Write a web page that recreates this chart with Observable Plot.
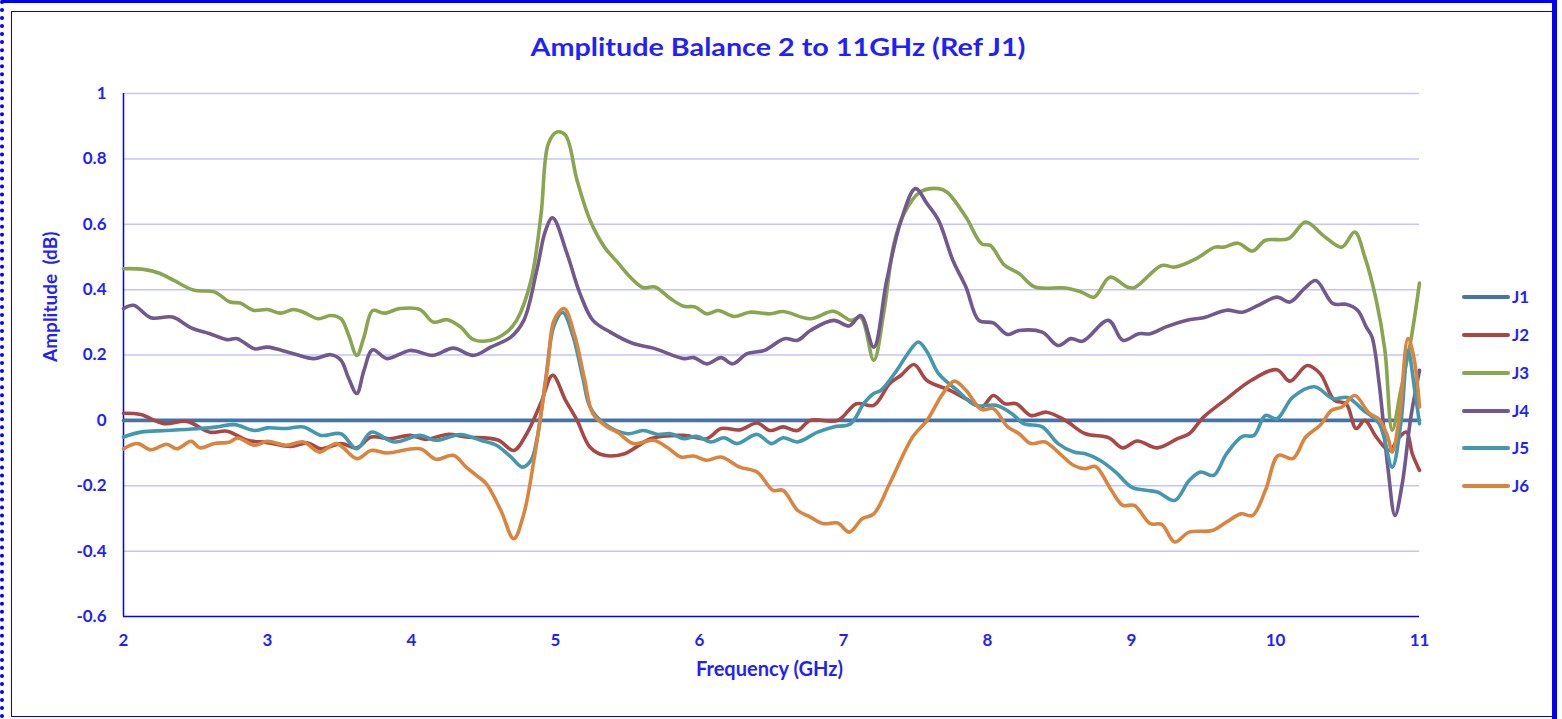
<!DOCTYPE html>
<html>
<head>
<meta charset="utf-8">
<script src="https://cdn.jsdelivr.net/npm/d3@7"></script>
<script src="https://cdn.jsdelivr.net/npm/@observablehq/plot@0.6"></script>
<style>
  html, body { margin: 0; padding: 0; background: #fff; }
  body { width: 1562px; height: 719px; position: relative; overflow: hidden; font-family: "Lato", "Open Sans", "DejaVu Sans", sans-serif; }
  #chart { position: absolute; left: 0; top: 0; }
  .txt { position: absolute; color: #1f1fff; font-weight: bold; white-space: nowrap; }
  #title { left: 0; width: 1562px; top: 31px; text-align: center; font-size: 25px; transform: translateX(-3px) scaleX(1.15); transform-origin: 781px 50%; }
  .leg { position: absolute; left: 1462px; width: 48px; height: 4px; border-radius: 2px; }
  .legtxt { position: absolute; left: 1512px; font-size: 17px; color: #1f1fff; font-weight: bold; }
  #outer { position: absolute; left: 0; top: 0; width: 1557px; height: 719px; border-top: 3px solid #0000ff; border-left: 4px dotted #0000ff; border-right: 5px solid #0000ff; box-sizing: border-box; }
  #inner { position: absolute; left: 11px; top: 11px; width: 1541px; height: 706px; border: 1.5px solid #0000ff; border-right: none; box-sizing: border-box; }
</style>
</head>
<body>
<div id="outer"></div>
<div id="inner"></div>
<div id="chart"></div>
<div id="title" class="txt">Amplitude Balance 2 to 11GHz (Ref J1)</div>
<div id="legend"></div>
<script>
// ---- data (frequency GHz, amplitude dB) ----
const xTicks = [2, 3, 4, 5, 6, 7, 8, 9, 10, 11];
const yTicks = [-0.6, -0.4, -0.2, 0, 0.2, 0.4, 0.6, 0.8, 1];
const seriesNames = ["J1", "J2", "J3", "J4", "J5", "J6"];
const seriesColors = ["#4572a7", "#aa4643", "#89a54e", "#71588f", "#4198af", "#db843d"];

const j1 = [[2.0, 0], [11.0, 0]];

const j2 = [[2.00,0.022],[2.12,0.018],[2.28,-0.010],[2.44,-0.003],[2.60,-0.036],[2.72,-0.033],[2.86,-0.061],[3.00,-0.068],[3.16,-0.080],[3.28,-0.069],[3.37,-0.087],[3.51,-0.071],[3.62,-0.084],[3.72,-0.051],[3.85,-0.056],[3.99,-0.046],[4.10,-0.058],[4.25,-0.043],[4.38,-0.051],[4.60,-0.060],[4.71,-0.092],[4.80,-0.041],[4.90,0.055],[4.98,0.138],[5.07,0.061],[5.15,0.0],[5.24,-0.082],[5.34,-0.107],[5.48,-0.102],[5.56,-0.082],[5.66,-0.056],[5.89,-0.046],[6.05,-0.056],[6.15,-0.025],[6.28,-0.029],[6.40,-0.008],[6.49,-0.031],[6.58,-0.020],[6.68,-0.031],[6.77,0.0],[6.96,0.0],[7.09,0.051],[7.21,0.046],[7.32,0.112],[7.40,0.138],[7.49,0.171],[7.58,0.122],[7.74,0.092],[7.85,0.066],[7.96,0.041],[8.04,0.076],[8.12,0.051],[8.20,0.051],[8.30,0.015],[8.41,0.025],[8.54,0.0],[8.68,-0.041],[8.84,-0.053],[8.94,-0.084],[9.04,-0.063],[9.18,-0.084],[9.32,-0.056],[9.40,-0.041],[9.50,0.010],[9.66,0.066],[9.83,0.122],[10.01,0.155],[10.10,0.120],[10.22,0.168],[10.31,0.143],[10.41,0.061],[10.49,0.051],[10.56,-0.025],[10.62,0.0],[10.70,-0.051],[10.79,-0.092],[10.86,-0.051],[10.91,-0.036],[10.95,-0.102],[11.00,-0.153]];

const j3 = [[2.00,0.464],[2.14,0.462],[2.25,0.450],[2.35,0.428],[2.49,0.398],[2.63,0.393],[2.74,0.362],[2.81,0.359],[2.90,0.337],[3.00,0.339],[3.09,0.328],[3.18,0.339],[3.25,0.331],[3.35,0.311],[3.44,0.321],[3.51,0.311],[3.56,0.265],[3.62,0.199],[3.67,0.255],[3.73,0.336],[3.81,0.328],[3.92,0.342],[4.06,0.339],[4.15,0.301],[4.25,0.308],[4.34,0.286],[4.43,0.247],[4.55,0.245],[4.66,0.270],[4.73,0.306],[4.83,0.428],[4.90,0.632],[4.95,0.846],[5.01,0.882],[5.07,0.872],[5.15,0.734],[5.24,0.612],[5.34,0.530],[5.43,0.484],[5.52,0.438],[5.61,0.406],[5.69,0.408],[5.80,0.372],[5.89,0.349],[5.97,0.347],[6.05,0.326],[6.13,0.336],[6.24,0.318],[6.35,0.331],[6.49,0.326],[6.58,0.333],[6.77,0.311],[6.93,0.334],[7.05,0.306],[7.12,0.315],[7.21,0.184],[7.28,0.330],[7.35,0.540],[7.42,0.632],[7.53,0.698],[7.66,0.709],[7.72,0.698],[7.85,0.622],[7.96,0.540],[8.02,0.535],[8.12,0.474],[8.22,0.449],[8.33,0.408],[8.54,0.405],[8.65,0.393],[8.74,0.377],[8.85,0.438],[8.97,0.408],[9.02,0.406],[9.21,0.474],[9.30,0.469],[9.45,0.495],[9.58,0.530],[9.64,0.530],[9.74,0.542],[9.84,0.518],[9.93,0.551],[10.09,0.556],[10.21,0.607],[10.33,0.566],[10.46,0.530],[10.55,0.576],[10.62,0.500],[10.70,0.367],[10.76,0.214],[10.81,-0.030],[10.87,0.092],[10.94,0.245],[11.00,0.420]];

const j4 = [[2.00,0.342],[2.07,0.352],[2.19,0.314],[2.34,0.316],[2.47,0.283],[2.60,0.265],[2.72,0.247],[2.79,0.250],[2.91,0.219],[3.00,0.224],[3.18,0.204],[3.32,0.189],[3.44,0.201],[3.51,0.184],[3.56,0.133],[3.62,0.082],[3.67,0.153],[3.73,0.216],[3.83,0.189],[3.99,0.214],[4.15,0.199],[4.29,0.221],[4.43,0.199],[4.55,0.224],[4.69,0.255],[4.78,0.306],[4.87,0.459],[4.93,0.580],[4.98,0.620],[5.08,0.510],[5.17,0.388],[5.26,0.306],[5.38,0.270],[5.54,0.235],[5.68,0.221],[5.89,0.189],[5.96,0.192],[6.05,0.173],[6.15,0.192],[6.23,0.173],[6.33,0.204],[6.45,0.214],[6.59,0.250],[6.68,0.245],[6.77,0.275],[6.93,0.306],[7.04,0.289],[7.12,0.321],[7.21,0.224],[7.30,0.428],[7.40,0.612],[7.50,0.709],[7.58,0.663],[7.66,0.612],[7.76,0.489],[7.85,0.408],[7.94,0.306],[8.04,0.298],[8.14,0.263],[8.22,0.275],[8.38,0.270],[8.49,0.229],[8.58,0.250],[8.66,0.242],[8.84,0.306],[8.94,0.245],[9.05,0.265],[9.13,0.265],[9.24,0.286],[9.40,0.308],[9.50,0.314],[9.66,0.337],[9.77,0.331],[9.88,0.352],[10.01,0.377],[10.10,0.362],[10.20,0.403],[10.28,0.428],[10.40,0.357],[10.49,0.355],[10.57,0.337],[10.63,0.286],[10.67,0.255],[10.72,0.112],[10.78,-0.143],[10.83,-0.291],[10.88,-0.194],[10.94,0.010],[11.00,0.153]];

const j5 = [[2.00,-0.051],[2.12,-0.036],[2.30,-0.031],[2.53,-0.025],[2.65,-0.020],[2.77,-0.013],[2.91,-0.031],[3.00,-0.023],[3.13,-0.025],[3.25,-0.020],[3.37,-0.046],[3.51,-0.041],[3.62,-0.087],[3.72,-0.036],[3.88,-0.066],[4.06,-0.046],[4.17,-0.061],[4.34,-0.043],[4.48,-0.061],[4.59,-0.076],[4.69,-0.112],[4.77,-0.143],[4.83,-0.122],[4.87,-0.060],[4.93,0.120],[4.99,0.290],[5.05,0.330],[5.12,0.260],[5.19,0.130],[5.24,0.041],[5.34,-0.010],[5.50,-0.041],[5.61,-0.031],[5.71,-0.043],[5.80,-0.041],[5.89,-0.056],[5.98,-0.049],[6.08,-0.066],[6.17,-0.053],[6.26,-0.071],[6.40,-0.043],[6.50,-0.071],[6.58,-0.053],[6.68,-0.066],[6.82,-0.036],[6.93,-0.020],[7.05,-0.010],[7.14,0.051],[7.21,0.082],[7.26,0.092],[7.37,0.153],[7.44,0.200],[7.52,0.240],[7.58,0.210],[7.66,0.143],[7.79,0.092],[7.92,0.046],[8.06,0.046],[8.17,0.020],[8.25,-0.010],[8.38,-0.020],[8.49,-0.071],[8.60,-0.097],[8.68,-0.102],[8.78,-0.122],[8.89,-0.158],[9.00,-0.204],[9.10,-0.214],[9.18,-0.219],[9.30,-0.245],[9.40,-0.184],[9.48,-0.158],[9.57,-0.168],[9.66,-0.102],[9.77,-0.049],[9.85,-0.046],[9.93,0.015],[10.01,0.005],[10.12,0.071],[10.27,0.103],[10.40,0.066],[10.50,0.070],[10.61,0.031],[10.72,-0.010],[10.81,-0.143],[10.87,-0.010],[10.92,0.214],[10.97,0.082],[11.00,-0.010]];

const j6 = [[2.00,-0.087],[2.10,-0.071],[2.19,-0.090],[2.30,-0.073],[2.37,-0.087],[2.47,-0.064],[2.53,-0.084],[2.63,-0.071],[2.74,-0.066],[2.79,-0.054],[2.91,-0.076],[3.00,-0.064],[3.13,-0.076],[3.25,-0.066],[3.36,-0.097],[3.48,-0.071],[3.62,-0.117],[3.72,-0.092],[3.83,-0.100],[4.06,-0.087],[4.17,-0.119],[4.29,-0.107],[4.38,-0.143],[4.45,-0.168],[4.52,-0.194],[4.62,-0.275],[4.71,-0.362],[4.78,-0.286],[4.85,-0.122],[4.92,0.082],[4.95,0.180],[4.99,0.306],[5.06,0.342],[5.13,0.265],[5.20,0.130],[5.26,0.020],[5.36,-0.020],[5.43,-0.036],[5.54,-0.071],[5.68,-0.061],[5.78,-0.084],[5.87,-0.112],[5.96,-0.109],[6.05,-0.122],[6.15,-0.112],[6.28,-0.143],[6.40,-0.158],[6.51,-0.214],[6.58,-0.214],[6.68,-0.275],[6.77,-0.296],[6.86,-0.316],[6.96,-0.314],[7.04,-0.342],[7.13,-0.301],[7.21,-0.286],[7.32,-0.194],[7.48,-0.051],[7.58,0.0],[7.69,0.082],[7.77,0.120],[7.85,0.092],[7.96,0.033],[8.04,0.036],[8.14,-0.020],[8.22,-0.041],[8.30,-0.071],[8.40,-0.066],[8.49,-0.097],[8.60,-0.138],[8.68,-0.148],[8.75,-0.141],[8.86,-0.214],[8.94,-0.260],[9.02,-0.260],[9.13,-0.316],[9.21,-0.318],[9.30,-0.372],[9.40,-0.342],[9.56,-0.337],[9.66,-0.311],[9.76,-0.286],[9.84,-0.291],[9.93,-0.214],[10.02,-0.107],[10.12,-0.117],[10.21,-0.051],[10.31,-0.015],[10.39,0.031],[10.46,0.041],[10.55,0.076],[10.65,0.022],[10.72,0.003],[10.78,-0.051],[10.81,-0.097],[10.86,0.010],[10.92,0.250],[10.96,0.194],[11.00,0.041]];

const seriesData = [j1, j2, j3, j4, j5, j6];

// ---- build table ----
const rows = seriesNames.flatMap((name, i) => seriesData[i].map(([f, v]) => ({series: name, f, v})));

const textBlue = "#1f1fff";
const axisBlue = "#0000ff";
const gridBlue = "#c4c4ff";

const chart = Plot.plot({
  width: 1562,
  height: 719,
  marginLeft: 123,
  marginRight: 143,
  marginTop: 93,
  marginBottom: 103,
  style: {fontFamily: "Lato, 'Open Sans', 'DejaVu Sans', sans-serif", fontSize: "17px", fontWeight: "bold", color: textBlue, background: "transparent", overflow: "visible"},
  x: {domain: [2, 11], label: null},
  y: {domain: [-0.6, 1], label: null},
  color: {domain: seriesNames, range: seriesColors},
  marks: [
    Plot.gridY(yTicks.filter(t => t > -0.6), {stroke: gridBlue, strokeOpacity: 1, strokeWidth: 1.5}),
    Plot.axisX(xTicks, {tickSize: 0, tickPadding: 17, fill: textBlue, fontWeight: "bold", fontSize: 17, label: null, tickFormat: d => String(d)}),
    Plot.axisY(yTicks, {tickSize: 0, tickPadding: 17, fill: textBlue, fontWeight: "bold", fontSize: 17, label: null, tickFormat: d => String(+d.toFixed(1))}),
    Plot.ruleX([2], {stroke: axisBlue, strokeWidth: 1.5}),
    Plot.ruleY([-0.6], {stroke: axisBlue, strokeWidth: 1.5}),
    Plot.line(rows, {x: "f", y: "v", z: "series", stroke: "series", strokeWidth: 3.6, curve: "catmull-rom", strokeLinejoin: "round", strokeLinecap: "round"}),
    Plot.text(["Frequency (GHz)"], {frameAnchor: "bottom", dx: -2, dy: 59, text: d => d, fill: textBlue, fontSize: 20, fontWeight: "bold"}),
    Plot.text(["Amplitude  (dB)"], {frameAnchor: "left", dx: -73, dy: 7, rotate: -90, text: d => d, fill: textBlue, fontSize: 19, fontWeight: "bold"})
  ]
});
document.getElementById("chart").appendChild(chart);

// ---- legend ----
const legend = document.getElementById("legend");
const legY = [297, 335, 373, 411, 448, 486];
seriesNames.forEach((name, i) => {
  const ln = document.createElement("div");
  ln.className = "leg";
  ln.style.top = (legY[i] - 2) + "px";
  ln.style.background = seriesColors[i];
  legend.appendChild(ln);
  const t = document.createElement("div");
  t.className = "legtxt";
  t.style.top = (legY[i] - 11) + "px";
  t.textContent = name;
  legend.appendChild(t);
});
</script>
</body>
</html>
